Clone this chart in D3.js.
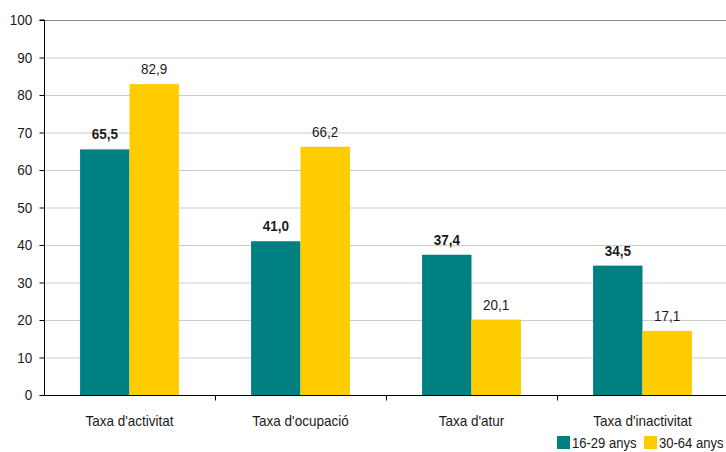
<!DOCTYPE html>
<html>
<head>
<meta charset="utf-8">
<script src="https://cdn.jsdelivr.net/npm/d3@7"></script>
<style>
  body { margin: 0; background: #fff; }
  text { font-family: "Liberation Sans", Arial, sans-serif; fill: #1a1a1a; }
</style>
</head>
<body>
<script>
// categories and series
const categories = ["Taxa d'activitat", "Taxa d'ocupació", "Taxa d'atur", "Taxa d'inactivitat"];
const seriesNames = ["16-29 anys", "30-64 anys"];
const young = [65.5, 41.0, 37.4, 34.5];
const older = [82.9, 66.2, 20.1, 17.1];
const yTicks = [0, 10, 20, 30, 40, 50, 60, 70, 80, 90, 100];

const colors = ["#008080", "#ffcc00"];
const width = 726, height = 452;
const margin = {top: 20, right: -2, bottom: 57, left: 44};
const fs = 15, squeeze = "scale(0.9,1)";

const svg = d3.select("body").append("svg")
    .attr("width", width)
    .attr("height", height);

const x = d3.scaleBand()
    .domain(categories)
    .range([margin.left, width - margin.right])
    .paddingInner(0)
    .paddingOuter(0);

const x1 = d3.scaleBand()
    .domain(seriesNames)
    .range([0, x.bandwidth()])
    .paddingOuter(0.73)
    .paddingInner(0);

const y = d3.scaleLinear()
    .domain([0, 100])
    .range([height - margin.bottom, margin.top]);

// grid
svg.append("g")
    .selectAll("line")
    .data(yTicks.filter(d => d > 0))
    .join("line")
    .attr("x1", margin.left)
    .attr("x2", width)
    .attr("y1", d => y(d) + 0.5)
    .attr("y2", d => y(d) + 0.5)
    .attr("stroke", d => d === 100 ? "#888" : "#ccc")
    .attr("stroke-width", 1);

const data = categories.map((c, i) => ({cat: c, values: [young[i], older[i]]}));

const groups = svg.append("g")
    .selectAll("g")
    .data(data)
    .join("g")
    .attr("transform", d => `translate(${x(d.cat)},0)`);

const items = d => d.values.map((v, i) => ({key: seriesNames[i], v, i}));

groups.selectAll("rect")
    .data(items)
    .join("rect")
    .attr("x", d => x1(d.key))
    .attr("width", x1.bandwidth())
    .attr("y", d => y(d.v))
    .attr("height", d => y(0) - y(d.v))
    .attr("fill", d => colors[d.i]);

groups.selectAll("g.val")
    .data(items)
    .join("g")
    .attr("class", "val")
    .attr("transform", d => `translate(${x1(d.key) + x1.bandwidth() / 2},${y(d.v) - 10})`)
  .append("text")
    .attr("transform", squeeze)
    .attr("text-anchor", "middle")
    .attr("font-size", fs)
    .attr("font-weight", d => d.i === 0 ? "bold" : "normal")
    .text(d => d3.format(".1f")(d.v).replace(".", ","));

// y axis
const yAxis = svg.append("g")
    .attr("transform", `translate(${margin.left + 0.5},0)`)
    .call(d3.axisLeft(y).tickValues(yTicks).tickSize(5));
yAxis.select(".domain").attr("stroke", "#000").attr("d", `M-5,${y(100)}H0V${y(0)}`);
yAxis.selectAll("text")
    .attr("x", -13.5)
    .attr("transform", squeeze)
    .attr("font-size", fs)
    .attr("font-family", "Liberation Sans, Arial, sans-serif")
    .attr("fill", "#1a1a1a");

// x axis
const xAxis = svg.append("g")
    .attr("transform", `translate(0,${y(0) + 0.5})`)
    .call(d3.axisBottom(x).tickSize(0).tickPadding(20));
xAxis.select(".domain").attr("stroke", "#000").attr("d", `M${margin.left},0H${width}`);
xAxis.selectAll("text")
    .attr("transform", squeeze)
    .attr("font-size", fs)
    .attr("font-family", "Liberation Sans, Arial, sans-serif")
    .attr("fill", "#1a1a1a");
xAxis.selectAll(".xb")
    .data(categories.slice(1))
    .join("line")
    .attr("x1", d => x(d) + 0.5).attr("x2", d => x(d) + 0.5)
    .attr("y1", 0).attr("y2", 5)
    .attr("stroke", "#000");

// legend
const legend = svg.append("g").attr("transform", `translate(557,436)`);
const li = legend.selectAll("g")
    .data(seriesNames)
    .join("g")
    .attr("transform", (d, i) => `translate(${i * 87},0)`);
li.append("rect").attr("width", 13).attr("height", 13).attr("fill", (d, i) => colors[i]);
li.append("text")
    .attr("transform", "translate(15,12) scale(0.87,1)")
    .attr("font-size", fs)
    .text(d => d);
</script>
</body>
</html>
